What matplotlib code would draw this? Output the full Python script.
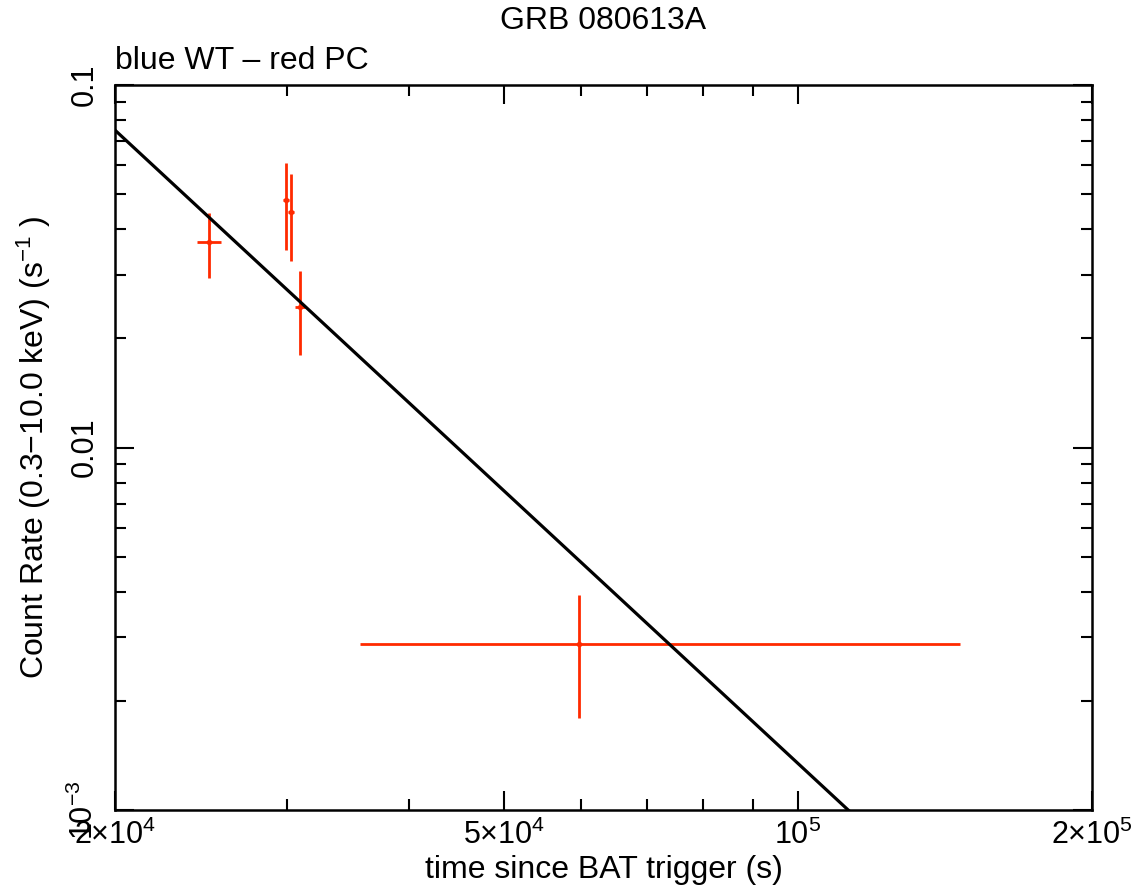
import matplotlib.pyplot as plt
from matplotlib.ticker import FixedLocator, NullFormatter

plt.rcParams['font.family'] = ['Liberation Sans', 'DejaVu Sans']
plt.rcParams['mathtext.fontset'] = 'custom'
plt.rcParams['mathtext.rm'] = 'Liberation Sans'
plt.rcParams['mathtext.it'] = 'Liberation Sans:italic'
plt.rcParams['mathtext.bf'] = 'Liberation Sans:bold'

# PC mode points (red)
t_pc = [24960, 29920, 30280, 30940, 59700]
t_lo = [24270, 29700, 30050, 30600, 35620]
t_hi = [25680, 30150, 30500, 31300, 146560]
rate_pc = [0.0369, 0.0482, 0.0446, 0.0244, 0.00287]
rate_lo = [0.0294, 0.0351, 0.0327, 0.0180, 0.001795]
rate_hi = [0.0443, 0.0609, 0.0568, 0.0307, 0.00392]

# power-law fit line
fit_t = [2.0e4, 1.126e5]
fit_rate = [0.0751, 1.0e-3]

xerr = [[c - l for c, l in zip(t_pc, t_lo)], [h - c for c, h in zip(t_pc, t_hi)]]
yerr = [[c - l for c, l in zip(rate_pc, rate_lo)], [h - c for c, h in zip(rate_pc, rate_hi)]]

fig = plt.figure(figsize=(11.37, 8.93), dpi=100)
ax = fig.add_axes([0.1011, 0.0929, 0.8593, 0.8119])

ax.errorbar(t_pc, rate_pc, xerr=xerr, yerr=yerr, fmt='o', ms=3,
            color='#ff2a00', ecolor='#ff2a00', elinewidth=2, capsize=0, zorder=2)
ax.plot(fit_t, fit_rate, color='black', lw=2.3, zorder=3)

ax.set_xscale('log')
ax.set_yscale('log')
ax.set_xlim(2e4, 2e5)
ax.set_ylim(1e-3, 0.1)

ax.xaxis.set_major_locator(FixedLocator([2e4, 5e4, 1e5, 2e5]))
ax.set_xticklabels([r'$2{\times}10^4$', r'$5{\times}10^4$', r'$10^5$', r'$2{\times}10^5$'])
ax.xaxis.set_minor_locator(FixedLocator([3e4, 4e4, 6e4, 7e4, 8e4, 9e4]))
ax.xaxis.set_minor_formatter(NullFormatter())

ax.yaxis.set_major_locator(FixedLocator([1e-3, 1e-2, 1e-1]))
ax.set_yticklabels([r'$10^{-3}$', '0.01', '0.1'], rotation=90, va='center')
ax.yaxis.set_minor_locator(FixedLocator([k * 1e-3 for k in range(2, 10)] + [k * 1e-2 for k in range(2, 10)]))
ax.yaxis.set_minor_formatter(NullFormatter())

ax.tick_params(which='both', direction='in', top=True, right=True, width=1.5, labelsize=22)
ax.tick_params(which='major', length=14, pad=7)
ax.tick_params(which='minor', length=8)
ax.tick_params(axis='y', which='major', pad=11)
for s in ax.spines.values():
    s.set_linewidth(1.8)

ax.set_xlabel('time since BAT trigger (s)', fontsize=23, labelpad=3)
ax.set_ylabel(r'Count Rate (0.3$-$10.0 keV) (s$^{-1}$ )', fontsize=23, labelpad=11)

fig.text(0.530, 0.977, 'GRB 080613A', ha='center', va='center', fontsize=23)
ax.text(0.0, 1.012, 'blue WT \u2013 red PC', transform=ax.transAxes, ha='left', va='bottom', fontsize=23)

fig.savefig('out.png', dpi=100)
